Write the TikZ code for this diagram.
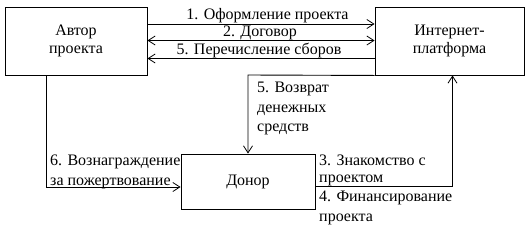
\documentclass[tikz,border=0pt]{standalone}
\usepackage{fontspec}
\setmainfont{Liberation Serif}
\usetikzlibrary{arrows.meta}
\begin{document}
\begin{tikzpicture}[x=1pt,y=-1pt,
  every node/.style={font=\fontsize{16}{19.5}\selectfont},
  box/.style={draw, line width=0.9pt, align=center, inner sep=0pt, font=\fontsize{16}{18}\selectfont},
  lbl/.style={inner sep=0pt, align=left, anchor=base west},
  top/.style={inner sep=0pt, anchor=base},
  conn/.style={line width=0.9pt},
  tip/.tip={Straight Barb[length=7pt,width=9pt,line width=0.8pt]},
  arr/.style={conn, -tip}]
\useasboundingbox (0,0) rectangle (529,234);
\node[box, minimum width=142pt, minimum height=68pt] (author) at (76,41) {Автор\\проекта};
\node[box, minimum width=149pt, minimum height=68pt] (inet) at (449.5,41) {Интернет-\\платформа};
\node[box, minimum width=134pt, minimum height=55pt] (donor) at (248,181.5) {Донор};
% top connectors
\draw[arr] (author.east |- 0,24) -- (inet.west |- 0,24);
\draw[conn, tip-tip] (author.east |- 0,40.5) -- (inet.west |- 0,40.5);
\draw[arr] (inet.west |- 0,58.5) -- (author.east |- 0,58.5);
\node[top] (l1) at (267.5,19.5) {1. Оформление проекта};
\node[top] (l2) at (260,36.5) {2. Договор};
\node[top] (l5a) at (259,54.5) {5. Перечисление сборов};
% return money
\coordinate (rt) at (248,75);
\draw[arr] (inet.south west) -- (rt) -- (rt |- donor.north);
\node[lbl] (l5b) at (257,131.7) {5. Возврат\\денежных\\средств};
% reward
\coordinate (rw) at (46,187);
\draw[arr] (author.south -| rw) -- (rw) -- (rw -| donor.west);
\node[lbl] (l6) at (50,185) {6. Вознаграждение\\за пожертвование};
% financing
\coordinate (fn) at (452.5,186);
\draw[arr] (fn -| donor.east) -- (fn) -- (fn |- inet.south);
\node[lbl, font=\fontsize{16}{17}\selectfont] (l3) at (319,182) {3. Знакомство с\\проектом};
\node[lbl] (l4) at (319,221) {4. Финансирование\\проекта};
\end{tikzpicture}
\end{document}
